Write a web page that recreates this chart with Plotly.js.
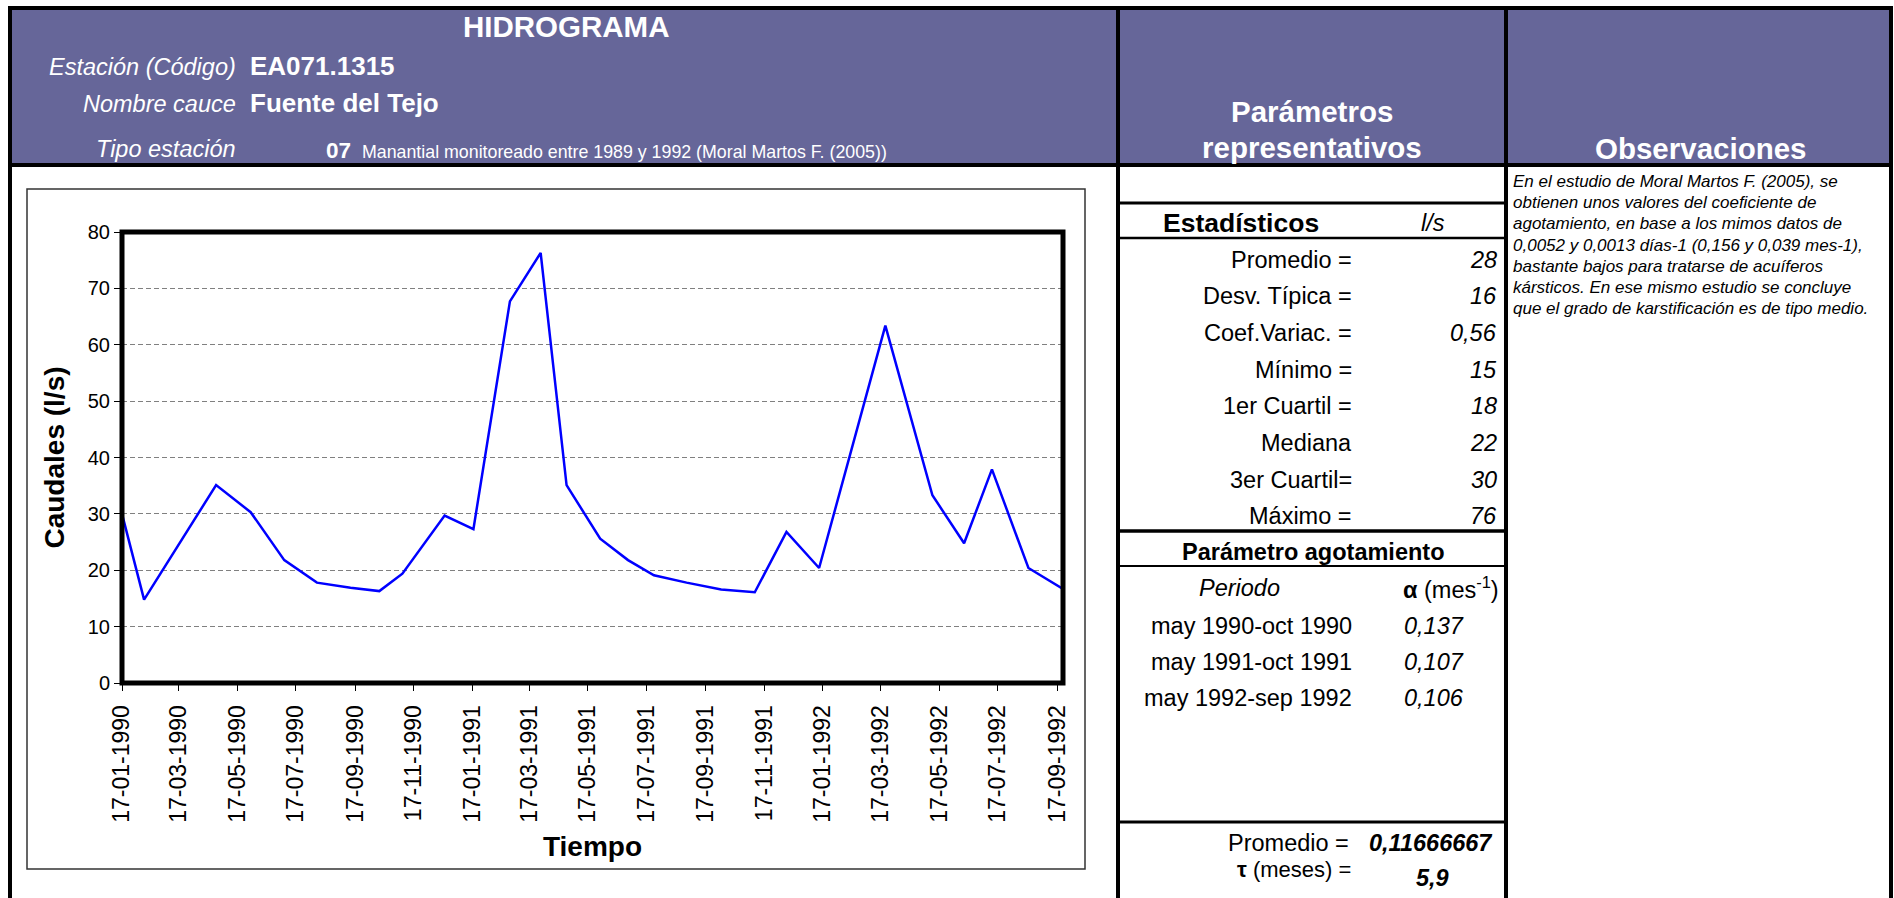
<!DOCTYPE html>
<html><head><meta charset="utf-8">
<script src="https://cdn.plot.ly/plotly-3.0.1.min.js"></script>
<style>html,body{margin:0;padding:0;background:#fff;overflow:hidden}#chart{width:1894px;height:898px}</style>
</head><body><div id="chart"></div>
<script>
// ---------------- data ----------------
const dates = ['1990-01-17','1990-02-09','1990-04-25','1990-05-31','1990-07-05','1990-08-08','1990-09-12','1990-10-12','1990-11-05','1990-12-19',
               '1991-01-18','1991-02-25','1991-03-29','1991-04-25','1991-05-30','1991-06-28','1991-07-25','1991-08-28','1991-10-03','1991-11-07',
               '1991-12-10','1992-01-13','1992-03-22','1992-05-10','1992-06-12','1992-07-11','1992-08-18','1992-09-23'];
const flows = [30.0,14.8,35.1,30.3,21.8,17.8,16.9,16.3,19.4,29.7,
               27.3,67.7,76.3,35.1,25.6,21.8,19.1,17.8,16.6,16.1,
               26.8,20.4,63.4,33.3,24.8,37.9,20.4,16.7];
const xTickVals = ['1990-01-17','1990-03-17','1990-05-17','1990-07-17','1990-09-17','1990-11-17',
                   '1991-01-17','1991-03-17','1991-05-17','1991-07-17','1991-09-17','1991-11-17',
                   '1992-01-17','1992-03-17','1992-05-17','1992-07-17','1992-09-17'];
const xTickText = ['17-01-1990','17-03-1990','17-05-1990','17-07-1990','17-09-1990','17-11-1990',
                   '17-01-1991','17-03-1991','17-05-1991','17-07-1991','17-09-1991','17-11-1991',
                   '17-01-1992','17-03-1992','17-05-1992','17-07-1992','17-09-1992'];
const yTicks = [0,10,20,30,40,50,60,70,80];
const xRange = ['1990-01-17','1992-09-23'];
const yRange = [0,80];

const headerLabels = ['Estación (Código)','Nombre cauce','Tipo estación'];
const headerValues = ['EA071.1315','Fuente del Tejo','07'];
const tipoDesc = 'Manantial monitoreado entre 1989 y 1992 (Moral Martos F. (2005))';

const statLabels = ['Promedio =','Desv. Típica =','Coef.Variac. =','Mínimo =','1er Cuartil =','Mediana','3er Cuartil=','Máximo ='];
const statValues = ['28','16','0,56','15','18','22','30','76'];
const periods = ['may 1990-oct 1990','may 1991-oct 1991','may 1992-sep 1992'];
const alphas = ['0,137','0,107','0,106'];
const alphaMean = '0,11666667';
const tauValue = '5,9';
const obsLines = ['En el estudio de Moral Martos F. (2005), se',
                  'obtienen unos valores del coeficiente de',
                  'agotamiento, en base a los mimos datos de',
                  '0,0052 y 0,0013 días-1 (0,156 y 0,039 mes-1),',
                  'bastante bajos para tratarse de acuíferos',
                  'kársticos. En ese mismo estudio se concluye',
                  'que el grado de karstificación es de tipo medio.'];

// ---------------- geometry helpers ----------------
const W = 1894, H = 898, L = 122, R = 1063, T = 232, B = 683;
const px = x => (x - L) / (R - L);
const py = y => (B - y) / (B - T);
const FONT = 'Liberation Sans, Arial, sans-serif';
const PURPLE = '#666699';

const annotations = [];
function txt(x, y, text, size, opts) {
  opts = opts || {};
  annotations.push({xref:'paper', yref:'paper', x:px(x), y:py(y), text:text, showarrow:false,
    font:{family:FONT, size:size, color:opts.color || '#000'},
    xanchor:opts.xa || 'center', yanchor:'middle', borderpad:0});
}
const shapes = [];
function rect(x0, y0, x1, y1, fill, lc, lw) {
  shapes.push({type:'rect', xref:'paper', yref:'paper', x0:px(x0), x1:px(x1), y0:py(y0), y1:py(y1),
    fillcolor:fill || 'rgba(0,0,0,0)', line:{color:lc || 'rgba(0,0,0,0)', width:lw || 0}, layer:'above'});
}
function hline(x0, x1, y, lw) {
  shapes.push({type:'line', xref:'paper', yref:'paper', x0:px(x0), x1:px(x1), y0:py(y), y1:py(y),
    line:{color:'#000', width:lw}, layer:'above'});
}
function vline(x, y0, y1, lw) {
  shapes.push({type:'line', xref:'paper', yref:'paper', x0:px(x), x1:px(x), y0:py(y0), y1:py(y1),
    line:{color:'#000', width:lw}, layer:'above'});
}

// header band + frame
rect(10, 10, 1891, 165, PURPLE);
hline(8, 1893, 8, 4);
hline(10, 1891, 165, 4);
vline(10, 6, 898, 4);
vline(1891, 6, 898, 4);
vline(1118, 6, 898, 4);
vline(1506, 6, 898, 4);
// column 2 separators
hline(1118, 1506, 203, 3);
hline(1118, 1506, 238, 2.5);
hline(1118, 1506, 531, 3.5);
hline(1118, 1506, 566, 2);
hline(1118, 1506, 822, 3);
// chart box and plot-area border
rect(27, 189, 1085, 869, null, '#333', 1.5);
rect(L, T, R, B, null, '#000', 5);

// header texts
txt(566, 26.2, '<b>HIDROGRAMA</b>', 29.5, {color:'#fff'});
const hdrY = [67, 104, 149];
headerLabels.forEach((s, i) => txt(237, hdrY[i], '<i>' + s + '</i>', 23.5, {color:'#fff', xa:'right'}));
txt(249, 66.2, '<b>' + headerValues[0] + '</b>', 26, {color:'#fff', xa:'left'});
txt(249, 103.2, '<b>' + headerValues[1] + '</b>', 26, {color:'#fff', xa:'left'});
txt(325, 150.2, '<b>' + headerValues[2] + '</b>', 22.5, {color:'#fff', xa:'left'});
txt(361, 151.7, tipoDesc, 17.8, {color:'#fff', xa:'left'});
txt(1312, 111.2, '<b>Parámetros</b>', 29.5, {color:'#fff'});
txt(1312, 147.2, '<b>representativos</b>', 29.5, {color:'#fff'});
txt(1701, 148.2, '<b>Observaciones</b>', 29.5, {color:'#fff'});

// statistics
txt(1162, 223, '<b>Estadísticos</b>', 26.5, {xa:'left'});
txt(1433, 223, '<i>l/s</i>', 23.5);
statLabels.forEach((s, i) => {
  const y = 259.7 + i * 36.66;
  txt(1353, y, s, 23.5, {xa:'right'});
  txt(1498, y, '<i>' + statValues[i] + '</i>', 23.5, {xa:'right'});
});
txt(1313, 552, '<b>Parámetro agotamiento</b>', 23.5);
txt(1239, 588, '<i>Periodo</i>', 23.5);
txt(1500, 588, '<b>α</b> (mes<sup>-1</sup>)', 23.5, {xa:'right'});
periods.forEach((s, i) => {
  const y = 625.6 + i * 36.3;
  txt(1353, y, s, 23.5, {xa:'right'});
  txt(1403, y, '<i>' + alphas[i] + '</i>', 23.5, {xa:'left'});
});
txt(1350, 843, 'Promedio =', 23.5, {xa:'right'});
txt(1493, 843, '<b><i>' + alphaMean + '</i></b>', 23.5, {xa:'right'});
txt(1352, 869.5, '<b>τ</b> (meses) =', 22, {xa:'right'});
txt(1432, 878, '<b><i>' + tauValue + '</i></b>', 23.5);

// observations
obsLines.forEach((s, i) => txt(1512, 181.5 + i * 21.2, '<i>' + s + '</i>', 17, {xa:'left'}));

const trace = {x:dates, y:flows, type:'scatter', mode:'lines', line:{color:'#0000FF', width:2.5}, hoverinfo:'x+y'};

const layout = {
  width:W, height:H, autosize:false,
  margin:{l:L, r:W - R, t:T, b:H - B, pad:0},
  paper_bgcolor:'#fff', plot_bgcolor:'rgba(0,0,0,0)',
  showlegend:false,
  font:{family:FONT, color:'#000'},
  xaxis:{type:'date', range:xRange, tickmode:'array', tickvals:xTickVals, ticktext:xTickText,
    tickangle:-90, ticks:'outside', ticklen:7, tickwidth:1, tickcolor:'#000', ticklabelstandoff:5,
    tickfont:{family:FONT, size:23, color:'#000'}, showgrid:false, zeroline:false, showline:false,
    automargin:false, fixedrange:true,
    title:{text:'<b>Tiempo</b>', font:{family:FONT, size:28, color:'#000'}, standoff:14}},
  yaxis:{range:yRange, tickmode:'array', tickvals:yTicks, ticks:'outside', ticklen:7, tickwidth:1, tickcolor:'#000',
    tickfont:{family:FONT, size:20, color:'#000'}, showgrid:true, gridcolor:'#808080', gridwidth:1, griddash:'5px,3px',
    zeroline:false, showline:false, automargin:false, fixedrange:true,
    title:{text:'<b>Caudales (l/s)</b>', font:{family:FONT, size:28, color:'#000'}, standoff:14}},
  shapes:shapes, annotations:annotations
};
Plotly.newPlot('chart', [trace], layout, {displayModeBar:false, staticPlot:true});
</script></body></html>
